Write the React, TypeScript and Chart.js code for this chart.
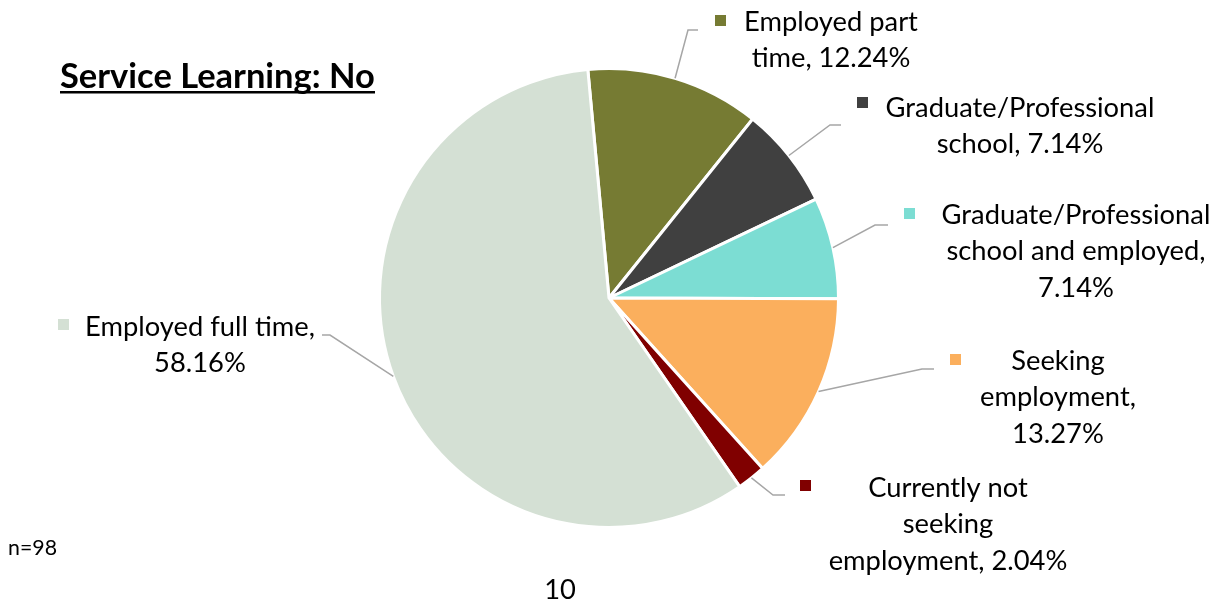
import React, { useEffect, useRef } from "react";
import { Chart, registerables } from "chart.js";

Chart.register(...registerables);

const categories = [
  "Employed part time",
  "Graduate/Professional school",
  "Graduate/Professional school and employed",
  "Seeking employment",
  "Currently not seeking employment",
  "Employed full time",
];
const values = [12.24, 7.14, 7.14, 13.27, 2.04, 58.16];
const colors = ["#767B33", "#404040", "#7CDDD3", "#FBAF5D", "#800000", "#D4E0D4"];
const lineWordCounts = [[2, 2], [1, 2], [1, 3, 1], [1, 1, 1], [2, 1, 2], [3, 1]];
const titleText = "Service Learning: No";
const noteText = "n=98";
const pageText = "10";

// layout (label annotation positions)
const labelLayout = [
  { ex: 688, ey: 30, endX: 698, mx: 715, my: 15, tx: 831, ty: 22 },
  { ex: 830, ey: 125, endX: 841, mx: 857, my: 97, tx: 1020, ty: 108 },
  { ex: 875, ey: 225, endX: 888, mx: 904, my: 208, tx: 1076, ty: 215 },
  { ex: 922, ey: 369, endX: 934, mx: 950, my: 354, tx: 1058, ty: 361 },
  { ex: 773, ey: 495, endX: 785, mx: 800, my: 480, tx: 948, ty: 488 },
  { ex: 330, ey: 335, endX: 322, mx: 58, my: 319, tx: 200, ty: 327 },
];

function splitLines(text: string, counts: number[]): string[] {
  const words = text.split(" ");
  const out: string[] = [];
  let i = 0;
  for (const c of counts) {
    out.push(words.slice(i, i + c).join(" "));
    i += c;
  }
  if (i < words.length) out[out.length - 1] += " " + words.slice(i).join(" ");
  return out;
}

const FONT = "Lato, 'Open Sans', sans-serif";

const labelPlugin = {
  id: "labelPlugin",
  afterDraw(chart: any) {
    const ctx = chart.ctx as CanvasRenderingContext2D;
    const meta = chart.getDatasetMeta(0);
    ctx.save();
    ctx.font = `24px ${FONT}`;
    const w = ctx.measureText("Graduate/Professional").width;
    const bodySize = (24 * 269) / w;
    meta.data.forEach((arc: any, i: number) => {
      const p = arc.getProps(["x", "y", "startAngle", "endAngle", "outerRadius"], true);
      const mid = (p.startAngle + p.endAngle) / 2;
      const sx = p.x + Math.cos(mid) * p.outerRadius;
      const sy = p.y + Math.sin(mid) * p.outerRadius;
      const L = labelLayout[i];
      ctx.strokeStyle = "#A6A6A6";
      ctx.lineWidth = 1.5;
      ctx.beginPath();
      ctx.moveTo(sx, sy);
      ctx.lineTo(L.ex, L.ey);
      ctx.lineTo(L.endX, L.ey);
      ctx.stroke();
      ctx.fillStyle = colors[i];
      ctx.fillRect(L.mx, L.my, 11, 11);
      const text = `${categories[i]}, ${values[i].toFixed(2)}%`;
      const lines = splitLines(text, lineWordCounts[i]);
      ctx.fillStyle = "#000";
      ctx.font = `${bodySize}px ${FONT}`;
      ctx.textAlign = "center";
      ctx.textBaseline = "middle";
      lines.forEach((ln, k) => ctx.fillText(ln, L.tx, L.ty + k * 36.5));
    });
    ctx.font = `bold 28px ${FONT}`;
    const tw = ctx.measureText(titleText).width;
    const ts = (28 * 315) / tw;
    ctx.font = `bold ${ts}px ${FONT}`;
    ctx.textAlign = "left";
    ctx.textBaseline = "alphabetic";
    ctx.fillStyle = "#000";
    ctx.fillText(titleText, 60, 88);
    ctx.fillRect(60, 91, 315, 2.5);
    ctx.font = `${bodySize * 0.78}px ${FONT}`;
    ctx.textBaseline = "middle";
    ctx.fillText(noteText, 8, 548);
    ctx.font = `${bodySize}px ${FONT}`;
    ctx.textAlign = "center";
    ctx.fillText(pageText, 560, 590);
    ctx.restore();
  },
};

export default function App() {
  const ref = useRef<HTMLCanvasElement>(null);
  useEffect(() => {
    if (!ref.current) return;
    const chart = new Chart(ref.current, {
      type: "pie",
      data: {
        labels: categories,
        datasets: [
          {
            data: values,
            backgroundColor: colors,
            borderColor: "#FFFFFF",
            borderWidth: 3,
            hoverOffset: 0,
            offset: 0,
          },
        ],
      },
      options: {
        responsive: false,
        animation: false,
        rotation: -5.3,
        layout: { padding: { left: 378, right: 391, top: 67, bottom: 77 } },
        plugins: {
          legend: { display: false },
          tooltip: { enabled: false },
          title: { display: false },
        },
      },
      plugins: [labelPlugin],
    });
    return () => chart.destroy();
  }, []);
  return (
    <div style={{ position: "fixed", left: 0, top: 0, width: 1231, height: 606, background: "#fff" }}>
      <canvas ref={ref} width={1231} height={606} style={{ display: "block", width: 1231, height: 606 }} />
    </div>
  );
}
